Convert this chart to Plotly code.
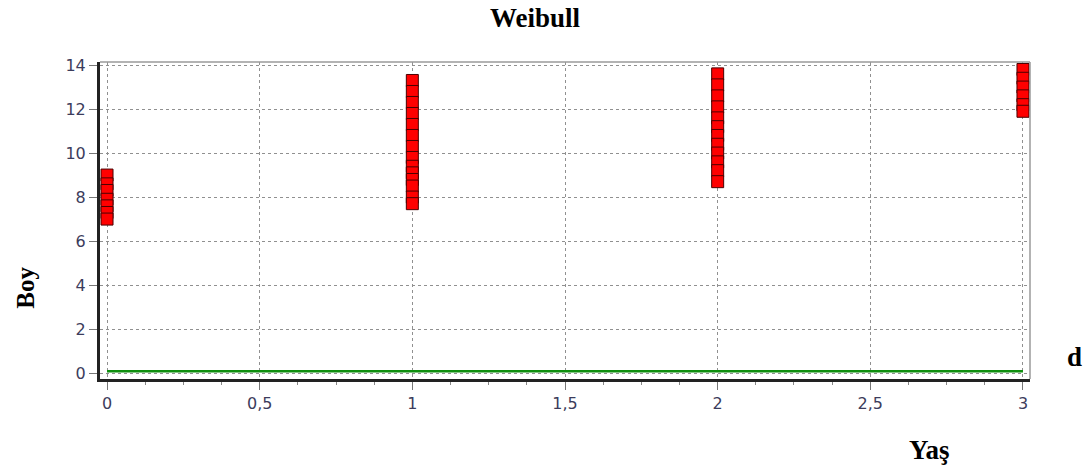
import plotly.graph_objects as go

# Observed heights (Boy) by age (Yaş)
age_0 = [9.0, 8.6, 8.3, 7.9, 7.6, 7.3, 7.0]
age_1 = [13.3, 12.8, 12.3, 11.8, 11.3, 10.8, 10.3, 9.8, 9.4, 9.1, 8.8, 8.5, 8.0, 7.7]
age_2 = [13.6, 13.1, 12.6, 12.1, 11.6, 11.2, 10.8, 10.4, 10.0, 9.6, 9.2, 8.7]
age_3 = [13.8, 13.4, 13.0, 12.6, 12.2, 11.9]
ages = [0, 1, 2, 3]

# Fitted Weibull curve
fit_x = [0, 0.5, 1, 1.5, 2, 2.5, 3]
fit_y = [0.08, 0.08, 0.08, 0.08, 0.08, 0.08, 0.08]

x_ticks = [0, 0.5, 1, 1.5, 2, 2.5, 3]
y_ticks = [0, 2, 4, 6, 8, 10, 12, 14]

obs_x, obs_y = [], []
for a, vals in zip(ages, [age_0, age_1, age_2, age_3]):
    obs_x += [a] * len(vals)
    obs_y += vals

fig = go.Figure()
fig.add_trace(go.Scatter(
    x=fit_x, y=fit_y, mode="lines",
    line=dict(color="#0f8f0f", width=2.5),
    showlegend=False, hoverinfo="skip",
))
fig.add_trace(go.Scatter(
    x=obs_x, y=obs_y, mode="markers",
    marker=dict(symbol="square", size=12, color="#ff0000",
                line=dict(color="#4a0000", width=1)),
    showlegend=False, cliponaxis=False,
))

tick_font = dict(family="DejaVu Sans", size=16, color="#3c3c5c")
serif_bold = "Liberation Serif"

fig.update_layout(
    width=1092, height=475,
    margin=dict(l=100, r=62, t=62, b=96),
    paper_bgcolor="white", plot_bgcolor="white",
    separators=", ",
    title=dict(text="<b>Weibull</b>", x=0.49, xanchor="center", y=0.963, yanchor="middle",
               font=dict(family=serif_bold, size=27, color="black")),
    xaxis=dict(
        range=[-0.023, 3.023], tickvals=x_ticks, ticktext=["0", "0,5", "1", "1,5", "2", "2,5", "3"],
        showgrid=True, gridcolor="#909090", griddash="dot", gridwidth=1,
        zeroline=False, showline=True, linecolor="#222222", linewidth=3,
        ticks="outside", ticklen=8, tickcolor="#777777", tickfont=tick_font,
        minor=dict(dtick=0.125, ticks="outside", ticklen=3, tickcolor="#888888", showgrid=False),
    ),
    yaxis=dict(
        range=[-0.27, 14.14], tickvals=y_ticks,
        showgrid=True, gridcolor="#909090", griddash="dot", gridwidth=1,
        zeroline=False, showline=True, linecolor="#222222", linewidth=3,
        ticks="outside", ticklen=8, tickcolor="#777777", tickfont=tick_font,
    ),
    shapes=[
        dict(type="line", xref="paper", yref="paper", x0=0, x1=1, y0=1, y1=1,
             line=dict(color="#9a9a9a", width=1.5)),
        dict(type="line", xref="paper", yref="paper", x0=1, x1=1, y0=0, y1=1,
             line=dict(color="#9a9a9a", width=1.5)),
    ],
    annotations=[
        dict(text="<b>Boy</b>", xref="paper", yref="paper", x=-0.081, y=0.287,
             textangle=-90, showarrow=False, xanchor="center", yanchor="middle",
             font=dict(family=serif_bold, size=25, color="black")),
        dict(text="<b>Yaş</b>", xref="paper", yref="paper", x=0.892, y=-0.225,
             showarrow=False, xanchor="center", yanchor="middle",
             font=dict(family=serif_bold, size=27, color="black")),
        dict(text="<b>d</b>", xref="paper", yref="paper", x=1.048, y=0.07,
             showarrow=False, xanchor="center", yanchor="middle",
             font=dict(family=serif_bold, size=27, color="black")),
    ],
)

fig.write_html("out.html")
